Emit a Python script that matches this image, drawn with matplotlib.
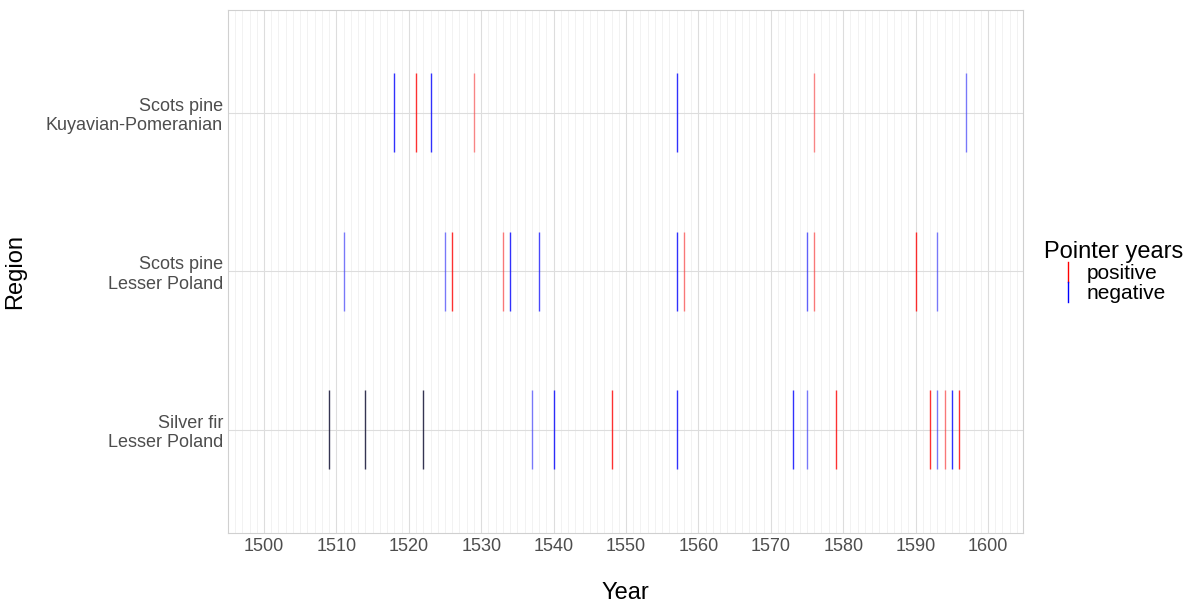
import matplotlib
matplotlib.use("Agg")
import matplotlib.pyplot as plt
from matplotlib.lines import Line2D
from matplotlib.legend_handler import HandlerBase

plt.rcParams["font.family"] = ["Liberation Sans", "DejaVu Sans"]

regions = ["Silver fir\nLesser Poland", "Scots pine\nLesser Poland",
           "Scots pine\nKuyavian-Pomeranian"]

# year, sign (p/n) and opacity per region
fir_years = [1509, 1514, 1522, 1537, 1540, 1548, 1557, 1573, 1575, 1579,
             1592, 1593, 1594, 1595, 1596]
fir_sign = ["n", "n", "n", "n", "n", "p", "n", "n", "n", "p",
            "p", "n", "p", "n", "p"]
fir_alpha = [1, 1, 1, .5, .8, .8, .8, .8, .5, .8, .8, .5, .5, .8, .8]

lp_years = [1511, 1525, 1526, 1533, 1534, 1538, 1557, 1558, 1575, 1576,
            1590, 1593]
lp_sign = ["n", "n", "p", "p", "n", "n", "n", "p", "n", "p", "p", "n"]
lp_alpha = [.5, .5, .8, .5, .8, .7, .8, .5, .6, .5, .8, .5]

kp_years = [1518, 1521, 1523, 1529, 1557, 1576, 1597]
kp_sign = ["n", "p", "n", "p", "n", "p", "n"]
kp_alpha = [.8, .8, .8, .45, .8, .45, .5]

colors = {"p": "red", "n": "blue"}

fig = plt.figure(figsize=(11.99, 6.11), dpi=100)
ax = fig.add_axes([0.19, 0.128, 0.663, 0.856])

for i, (yrs, sg, al) in enumerate([(fir_years, fir_sign, fir_alpha),
                                   (lp_years, lp_sign, lp_alpha),
                                   (kp_years, kp_sign, kp_alpha)]):
    for y, s, a in zip(yrs, sg, al):
        c = "#202040" if a == 1 else colors[s]
        ax.vlines(y, i + 1 - 0.25, i + 1 + 0.25, color=c, alpha=a if a < 1 else .9, lw=1)

ax.set_xlim(1495.0, 1604.8)
ax.set_ylim(0.35, 3.65)
ax.set_xticks(range(1500, 1601, 10))
ax.set_xticks(range(1495, 1605), minor=True)
ax.set_yticks([1, 2, 3])
ax.set_yticklabels(regions)
ax.grid(True, which="major", color="#dddddd", lw=0.8)
ax.grid(True, which="minor", axis="x", color="#f0f0f0", lw=0.6)
ax.set_axisbelow(True)
ax.tick_params(which="both", length=0, labelsize=13, labelcolor="#4d4d4d")
for sp in ax.spines.values():
    sp.set_color("#d0d0d0")
ax.set_xlabel("Year", fontsize=17, labelpad=20)
ax.set_ylabel("Region", fontsize=17, labelpad=14)


class VHandler(HandlerBase):
    def create_artists(self, legend, orig, xd, yd, w, h, fs, trans):
        l = Line2D([xd + w / 2, xd + w / 2], [yd - 2, yd + h + 2],
                   color=orig.get_color(), lw=1, transform=trans)
        return [l]


handles = [Line2D([0], [0], color="red", lw=0), Line2D([0], [0], color="blue", lw=0)]
fig.legend(handles, ["positive", "negative"], title="Pointer years",
           loc="center left", bbox_to_anchor=(0.855, 0.555), frameon=False,
           fontsize=15, title_fontsize=17, handlelength=0.6,
           handletextpad=0.6, labelspacing=0.05,
           handler_map={Line2D: VHandler()})
fig.savefig("out.png", dpi=100)
